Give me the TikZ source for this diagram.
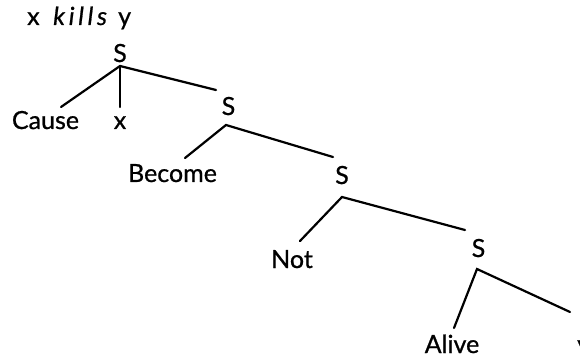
\documentclass[tikz,border=0pt]{standalone}
\usepackage{fontspec}
\setmainfont{Lato}[FakeBold=0.8]
\newfontfamily\killsfont{Lato Italic}[LetterSpace=15,FakeBold=0.8]
\begin{document}
\begin{tikzpicture}[x=1pt,y=-1pt,
  lbl/.style={inner sep=0pt,anchor=base,font=\fontsize{25}{28}\selectfont},
  edge/.style={line width=2.2pt,line cap=round}]
\useasboundingbox (0,0) rectangle (580,358);
\node[lbl,anchor=base west] (title) at (27,25) {\makebox[26pt][l]{x}\makebox[65pt][l]{\killsfont kills}y};
\node[lbl] (s1) at (120,62) {S};
\node[lbl] (cause) at (45.5,129) {Cause};
\node[lbl] (x) at (120,129) {x};
\node[lbl] (s2) at (228.5,115) {S};
\node[lbl] (become) at (172.5,182) {Become};
\node[lbl] (s3) at (342,184) {S};
\node[lbl] (not) at (292,268) {Not};
\node[lbl] (s4) at (478.5,257) {S};
\node[lbl] (alive) at (452,353) {Alive};
\node[lbl,anchor=base west] (y) at (577,353) {y};
\coordinate (r1) at (120,66);
\coordinate (e1a) at (61,107);
\coordinate (e1b) at (120,107);
\coordinate (e1c) at (216,90);
\coordinate (r2) at (226,125);
\coordinate (e2a) at (185,158);
\coordinate (e2b) at (333,157);
\coordinate (r3) at (342,197);
\coordinate (e3a) at (300,241);
\coordinate (e3b) at (465,230);
\coordinate (r4) at (477,269);
\coordinate (e4a) at (454,328);
\coordinate (e4b) at (570,312);
\draw[edge] (e1a) -- (r1) -- (e1c);
\draw[edge] (r1) -- (e1b);
\draw[edge] (e2a) -- (r2) -- (e2b);
\draw[edge] (e3a) -- (r3) -- (e3b);
\draw[edge] (e4a) -- (r4) -- (e4b);
\end{tikzpicture}
\end{document}
